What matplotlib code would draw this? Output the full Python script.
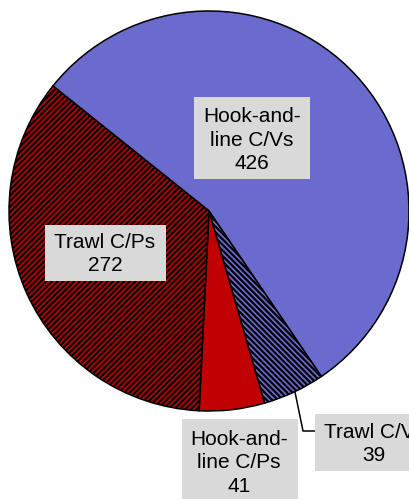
import matplotlib
matplotlib.use("Agg")
import matplotlib.pyplot as plt
from matplotlib.patches import Rectangle

# data
categories = ["Hook-and-\nline C/Vs", "Trawl C/Vs", "Hook-and-\nline C/Ps", "Trawl C/Ps"]
counts = [426, 39, 41, 272]
colors = ["#6b6bce", "#6b6bce", "#c00000", "#c00000"]
hatches = [None, "\\" * 6, None, "/" * 6]

W, H = 409, 499  # figure size in pixels

plt.rcParams['font.family'] = ['Liberation Sans', 'DejaVu Sans']
plt.rcParams['hatch.linewidth'] = 1.6

fig = plt.figure(figsize=(W / 100, H / 100), dpi=100)
ax = fig.add_axes([0, 0, 1, 1])

# pie in pixel units (y up), center at (209, 211) from top
wedges, _ = ax.pie(counts, colors=colors, startangle=141.3, counterclock=False,
                   center=(209, H - 211), radius=200,
                   wedgeprops=dict(edgecolor="black", linewidth=1.1))
for w, h in zip(wedges, hatches):
    if h:
        w.set_hatch(h)

ax.set_xlim(0, W)
ax.set_ylim(0, H)
ax.set_aspect("equal")
ax.axis("off")

# label boxes: (x0, y0_top, x1, y1_bottom) in pixels, text centre
boxes = [
    ((194, 97, 310, 179), (252, 140)),
    ((315, 414, 430, 471), (374, 444)),
    ((182, 419, 298, 510), (239, 463)),
    ((45, 225, 166, 281), (105, 254)),
]

for (cat, n), ((x0, y0, x1, y1), (tx, ty)) in zip(zip(categories, counts), boxes):
    ax.add_patch(Rectangle((x0, H - y1), x1 - x0, y1 - y0, facecolor="#d9d9d9",
                           edgecolor="none", zorder=3))
    ax.text(tx, H - ty, f"{cat}\n{n}", ha="center", va="center", fontsize=15,
            linespacing=1.3, color="black", zorder=4)

# leader line for the small trawl C/V slice
ax.plot([295, 303, 315], [H - 392, H - 431, H - 431], color="black", lw=1.1,
        zorder=2, clip_on=False)

fig.savefig("out.png", dpi=100)
